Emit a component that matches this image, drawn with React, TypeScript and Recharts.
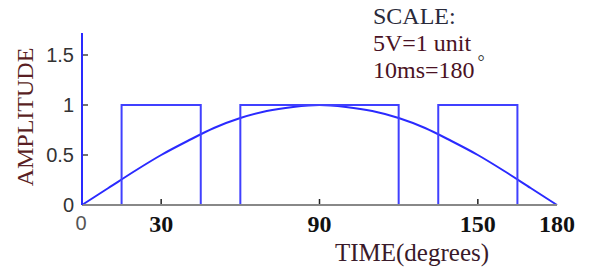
import { LineChart, Line, XAxis, YAxis } from "recharts"

document.body.style.margin = "0"

// half sine, every 10 degrees
const curveAngles = [0, 10, 20, 30, 40, 50, 60, 70, 80, 90, 100, 110, 120, 130, 140, 150, 160, 170, 180]
const curveValues = [0, 0.17, 0.34, 0.5, 0.64, 0.77, 0.87, 0.94, 0.98, 1, 0.98, 0.94, 0.87, 0.77, 0.64, 0.5, 0.34, 0.17, 0]

// square pulses (edges repeated for vertical steps)
const pulseAngles = [0, 15, 15, 45, 45, 60, 60, 120, 120, 135, 135, 165, 165]
const pulseValues = [0, 0, 1, 1, 0, 0, 1, 1, 0, 0, 1, 1, 0]

const xTicks = [0, 30, 90, 150, 180]
const yTicks = [0, 0.5, 1, 1.5]

const curveData = curveAngles.map((x, i) => ({ x, y: curveValues[i] }))
const pulseData = pulseAngles.map((x, i) => ({ x, y: pulseValues[i] }))

const BLUE = "#2a2aff"

function XTick({ x, y, payload }: { x: number; y: number; payload: { value: number } }) {
  const v = payload.value
  if (v === 0) {
    return (
      <text x={x - 1} y={y + 25} textAnchor="middle" fontFamily="Liberation Sans, Arial" fontSize={20} fill="#555">
        0
      </text>
    )
  }
  return (
    <g>
      {v !== 180 && <line x1={x} x2={x} y1={y - 1} y2={y - 6} stroke="#222" strokeWidth={1.5} />}
      <text x={x} y={y + 27} textAnchor="middle" fontFamily="Liberation Serif, Times New Roman" fontWeight="bold" fontSize={24} fill="#111">
        {v}
      </text>
    </g>
  )
}

function YTick({ x, y, payload }: { x: number; y: number; payload: { value: number } }) {
  return (
    <g>
      {payload.value !== 0 && <line x1={x + 1} x2={x + 6} y1={y} y2={y} stroke="#444" strokeWidth={1.5} />}
      <text x={x - 8} y={y} dy="0.36em" textAnchor="end" fontFamily="Liberation Sans, Arial" fontSize={20} fill="#333">
        {payload.value}
      </text>
    </g>
  )
}

export default function App() {
  return (
    <div style={{ position: "relative", width: 599, height: 267 }}>
      <LineChart width={599} height={267} margin={{ top: 33, right: 42, left: 0, bottom: 0 }}>
        <XAxis
          type="number"
          dataKey="x"
          domain={[0, 180]}
          ticks={xTicks}
          interval={0}
          height={62}
          tickSize={0}
          tickMargin={0}
          tickLine={false}
          axisLine={{ stroke: "#888", strokeWidth: 2 }}
          tick={XTick}
        />
        <YAxis
          type="number"
          domain={[0, 1.72]}
          ticks={yTicks}
          width={82}
          tickSize={0}
          tickMargin={0}
          tickLine={false}
          axisLine={{ stroke: BLUE, strokeWidth: 2 }}
          tick={YTick}
        />
        <Line data={curveData} dataKey="y" type="monotone" stroke={BLUE} strokeWidth={2} dot={false} isAnimationActive={false} />
        <Line data={pulseData} dataKey="y" type="linear" stroke="#4040ff" strokeWidth={2} dot={false} isAnimationActive={false} />
      </LineChart>
      <svg width={599} height={267} style={{ position: "absolute", left: 0, top: 0, pointerEvents: "none" }}>
        <text
          transform="translate(33,117) rotate(-90)"
          textAnchor="middle"
          fontFamily="Liberation Serif, Times New Roman"
          fontSize={24}
          fill="#5a1f24"
        >
          AMPLITUDE
        </text>
        <text x={412} y={261} textAnchor="middle" fontFamily="Liberation Serif, Times New Roman" fontSize={25} fill="#3a1a2a">
          TIME(degrees)
        </text>
        <g fontFamily="Liberation Serif, Times New Roman" fontSize={24}>
          <text x={373} y={24} fill="#2a2a3a">SCALE:</text>
          <text x={373} y={51} fill="#4a1224">5V=1 unit</text>
          <text x={373} y={78} fill="#4a1224">
            10ms=180
            <tspan dx={3} dy={-10} fontSize={18} fill="#333">°</tspan>
          </text>
        </g>
      </svg>
    </div>
  )
}
